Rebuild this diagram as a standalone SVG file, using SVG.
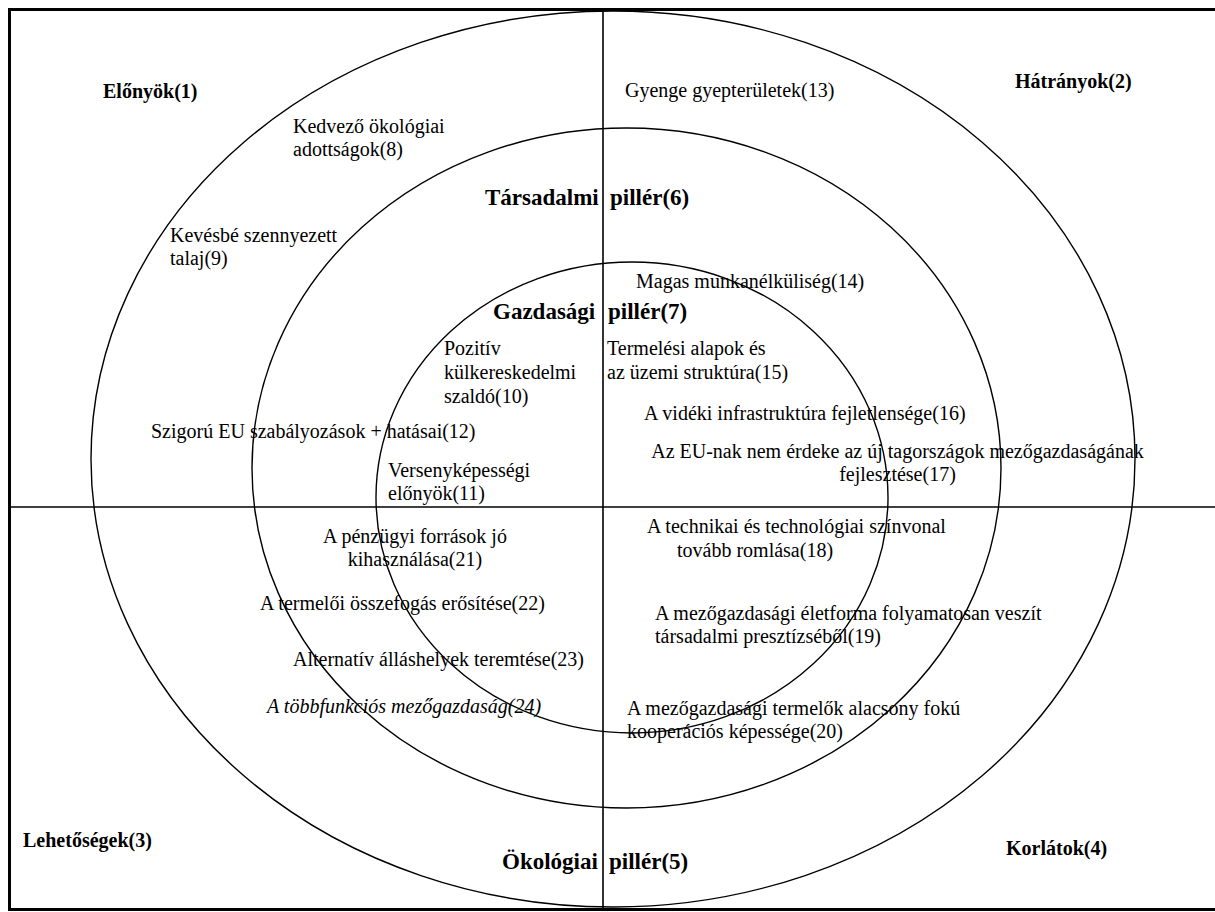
<svg xmlns="http://www.w3.org/2000/svg" width="1215" height="912" viewBox="0 0 1215 912">
<style>
text{font-family:"Liberation Serif","Times New Roman",serif;fill:#000}
.t{font-size:20px}
.b{font-size:20px;font-weight:bold}
.p{font-size:23px;font-weight:bold}
.i{font-size:20px;font-style:italic}
.ring{fill:none;stroke:#000;stroke-width:1.4}
.axis{fill:none;stroke:#000;stroke-width:1.6}
.frame{fill:none;stroke:#000;stroke-width:3}
</style>
<rect x="0" y="0" width="1215" height="912" fill="#fff"/>
<g id="frame"><path class="frame" d="M1216 9.5H9.5V909.5H1216"/></g>
<g id="rings">
<ellipse id="ring-outer" class="ring" cx="613" cy="459" rx="522" ry="448"/>
<ellipse id="ring-middle" class="ring" cx="626.5" cy="468" rx="374.5" ry="340"/>
<ellipse id="ring-inner" class="ring" cx="632" cy="497.5" rx="256" ry="235.5"/>
</g>
<g id="connectors">
<line class="axis" x1="603" y1="10" x2="603" y2="909"/>
<line class="axis" x1="10" y1="507" x2="1215" y2="507"/>
</g>
<g id="n1"><text class="b" x="103" y="98">Előnyök(1)</text></g>
<g id="n2"><text class="b" x="1015" y="88">Hátrányok(2)</text></g>
<g id="n3"><text class="b" x="23" y="847">Lehetőségek(3)</text></g>
<g id="n4"><text class="b" x="1006" y="855">Korlátok(4)</text></g>
<g id="n5"><text class="p" y="869"><tspan x="502">Ökológiai</tspan><tspan x="609">pillér(5)</tspan></text></g>
<g id="n6"><text class="p" y="205"><tspan x="485">Társadalmi</tspan><tspan x="610">pillér(6)</tspan></text></g>
<g id="n7"><text class="p" y="319"><tspan x="493">Gazdasági</tspan><tspan x="608">pillér(7)</tspan></text></g>
<g id="n8"><text class="t" x="293" y="133">Kedvező ökológiai<tspan x="293" dy="23">adottságok(8)</tspan></text></g>
<g id="n9"><text class="t" x="170" y="242">Kevésbé szennyezett<tspan x="170" dy="23">talaj(9)</tspan></text></g>
<g id="n10"><text class="t" x="444" y="355">Pozitív<tspan x="444" dy="24">külkereskedelmi</tspan><tspan x="444" dy="24">szaldó(10)</tspan></text></g>
<g id="n11"><text class="t" x="388" y="477">Versenyképességi<tspan x="388" dy="23">előnyök(11)</tspan></text></g>
<g id="n12"><text class="t" x="151" y="438">Szigorú EU szabályozások + hatásai(12)</text></g>
<g id="n13"><text class="t" x="625" y="97">Gyenge gyepterületek(13)</text></g>
<g id="n14"><text class="t" x="636" y="288">Magas munkanélküliség(14)</text></g>
<g id="n15"><text class="t" x="607" y="355">Termelési alapok és<tspan x="607" dy="24">az üzemi struktúra(15)</tspan></text></g>
<g id="n16"><text class="t" x="644" y="420">A vidéki infrastruktúra fejletlensége(16)</text></g>
<g id="n17"><text class="t" text-anchor="middle" x="897.5" y="458">Az EU-nak nem érdeke az új tagországok mezőgazdaságának<tspan x="897.5" dy="23">fejlesztése(17)</tspan></text></g>
<g id="n18"><text class="t" x="647" y="533">A technikai és technológiai színvonal<tspan x="677" dy="24">tovább romlása(18)</tspan></text></g>
<g id="n19"><text class="t" x="655" y="620">A mezőgazdasági életforma folyamatosan veszít<tspan x="655" dy="23">társadalmi presztízséből(19)</tspan></text></g>
<g id="n20"><text class="t" x="627" y="715">A mezőgazdasági termelők alacsony fokú<tspan x="627" dy="23">kooperációs képessége(20)</tspan></text></g>
<g id="n21"><text class="t" text-anchor="middle" x="415" y="543">A pénzügyi források jó<tspan x="415" dy="23">kihasználása(21)</tspan></text></g>
<g id="n22"><text class="t" x="260" y="610">A termelői összefogás erősítése(22)</text></g>
<g id="n23"><text class="t" x="293" y="666">Alternatív álláshelyek teremtése(23)</text></g>
<g id="n24"><text class="i" x="267" y="713">A többfunkciós mezőgazdaság(24)</text></g>
</svg>
